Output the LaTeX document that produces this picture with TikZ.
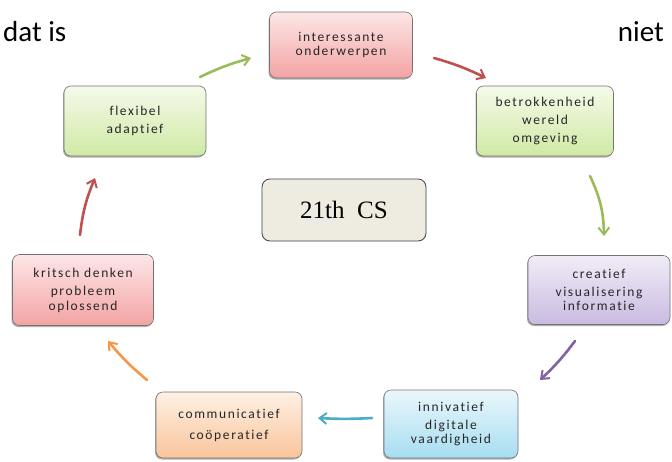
\documentclass[tikz,border=0pt]{standalone}
\usepackage{fontspec}
\setmainfont{Carlito}
\newfontfamily\boxfont[LetterSpace=12,Ligatures={NoCommon},RawFeature={-liga}]{Carlito}
\newfontfamily\serifcs{Liberation Serif}
\usetikzlibrary{shadows,arrows.meta}
\definecolor{redA}{HTML}{FDE6E6}\definecolor{redB}{HTML}{F3A3A3}
\definecolor{grnA}{HTML}{F5FAEA}\definecolor{grnB}{HTML}{CFE9A4}
\definecolor{purA}{HTML}{F1ECF7}\definecolor{purB}{HTML}{C9BBE1}
\definecolor{cyaA}{HTML}{EAF7FC}\definecolor{cyaB}{HTML}{A6DDF0}
\definecolor{orgA}{HTML}{FEF0E4}\definecolor{orgB}{HTML}{F9C59B}
\definecolor{arGreen}{HTML}{9BBB59}\definecolor{arRed}{HTML}{C0504D}
\definecolor{arPurple}{HTML}{8064A2}\definecolor{arCyan}{HTML}{4BACC6}
\definecolor{arOrange}{HTML}{F79646}
\definecolor{csFill}{HTML}{EEEBE0}
\tikzset{
  box/.style={rounded corners=7pt, draw=black!55, line width=0.6pt,
    minimum width=140pt, minimum height=67pt, align=center, text=black!85,
    font=\boxfont\fontsize{13.5}{18}\selectfont,
    drop shadow={shadow xshift=-1pt, shadow yshift=-1.5pt, opacity=0.45, fill=black!70}},
  redbox/.style={box, top color=redA, bottom color=redB},
  grnbox/.style={box, top color=grnA, bottom color=grnB},
  purbox/.style={box, top color=purA, bottom color=purB},
  cyabox/.style={box, top color=cyaA, bottom color=cyaB},
  orgbox/.style={box, top color=orgA, bottom color=orgB},
  flow/.style={line width=2.6pt, line cap=round, -{Straight Barb[length=7pt,width=11pt,line width=2pt]}},
  big/.style={font=\fontsize{29}{32}\selectfont}
}
\begin{document}
\begin{tikzpicture}[x=1pt,y=-1pt]
\useasboundingbox (0,0) rectangle (672,461);
\node[redbox, minimum width=143pt, minimum height=66pt] (int) at (341,45) {interessante\\[-4pt]onderwerpen};
\node[grnbox, minimum width=137pt, minimum height=70pt] (bet) at (545,121) {betrokkenheid\\wereld\\omgeving};
\node[purbox, minimum width=142pt, minimum height=69pt] (cre) at (599,290) {creatief\\visualisering\\[-4pt]informatie};
\node[cyabox, minimum width=134pt, minimum height=68pt] (inn) at (451,424) {innivatief\\digitale\\[-4pt]vaardigheid};
\node[orgbox, minimum width=146pt, minimum height=66pt] (com) at (229,425) {communicatief\\[3pt]coöperatief};
\node[redbox, minimum width=141pt, minimum height=71pt] (kri) at (83,290) {kritsch denken\\probleem\\[-3pt]oplossend};
\node[grnbox, minimum width=142pt, minimum height=70pt] (fle) at (135,121) {flexibel\\adaptief};
\node[rounded corners=8pt, draw=black!75, line width=0.8pt, fill=csFill,
  minimum width=164pt, minimum height=62pt, font=\serifcs\fontsize{25}{28}\selectfont] (cs) at (344,210) {21th\ \ CS};
\node[big, anchor=west, inner sep=0pt] (dat) at (3,32) {dat is};
\node[big, anchor=east, inner sep=0pt] (niet) at (664,32) {niet};
\coordinate (a1s) at (200,77); \coordinate (a1e) at (251,58);
\coordinate (a2s) at (434,58); \coordinate (a2e) at (486,78);
\coordinate (a3s) at (590,176); \coordinate (a3e) at (604,236);
\coordinate (a4s) at (575,341); \coordinate (a4e) at (540,380);
\coordinate (a5s) at (372,418); \coordinate (a5e) at (318,418);
\coordinate (a6s) at (147,380); \coordinate (a6e) at (108,341);
\coordinate (a7s) at (80,235); \coordinate (a7e) at (95,178);
\draw[flow, arGreen] (a1s) to[bend left=5] (a1e);
\draw[flow, arRed] (a2s) to[bend left=5] (a2e);
\draw[flow, arGreen] (a3s) to[bend left=12] (a3e);
\draw[flow, arPurple] (a4s) to[bend left=5] (a4e);
\draw[flow, arCyan] (a5s) to[bend left=3] (a5e);
\draw[flow, arOrange] (a6s) to[bend left=5] (a6e);
\draw[flow, arRed] (a7s) to[bend left=8] (a7e);
\end{tikzpicture}
\end{document}
